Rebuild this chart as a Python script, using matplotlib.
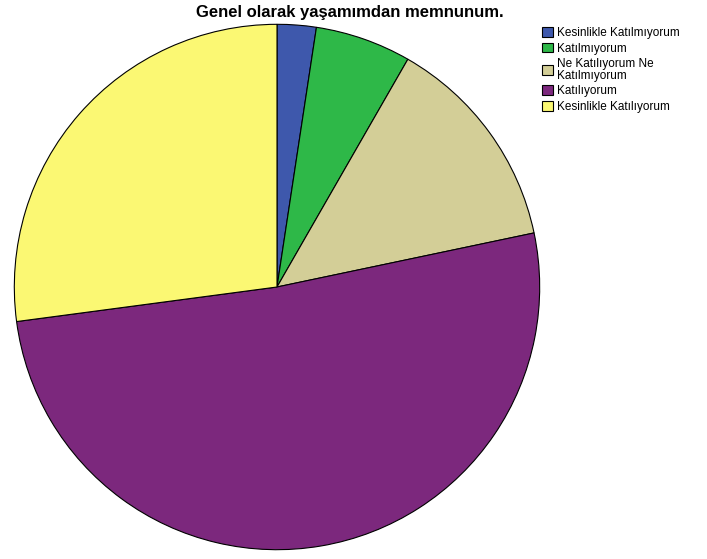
import matplotlib.pyplot as plt

plt.rcParams['font.family'] = ['Liberation Sans', 'DejaVu Sans']

labels = ['Kesinlikle Katılmıyorum', 'Katılmıyorum', 'Ne Katılıyorum Ne\nKatılmıyorum',
          'Katılıyorum', 'Kesinlikle Katılıyorum']
values = [2.4, 5.9, 13.4, 51.2, 27.1]
colors = ['#3E58AC', '#2EB848', '#D3CE97', '#7C287D', '#FBF873']

fig = plt.figure(figsize=(7.07, 5.59), dpi=100)
ax = fig.add_axes([13 / 707, 8 / 559, 528 / 707, 528 / 559])
wedges, _ = ax.pie(values, colors=colors, startangle=90, counterclock=False,
                   radius=1, wedgeprops=dict(edgecolor='black', linewidth=0.8))
ax.set_xlim(-1.005, 1.005)
ax.set_ylim(-1.005, 1.005)
ax.set_aspect('equal')
ax.axis('off')

fig.text(350 / 707, 1 - 12 / 559, 'Genel olarak yaşamımdan memnunum.',
         ha='center', va='center', fontsize=12, fontweight='bold')

leg = fig.legend(wedges, labels, loc='upper left', bbox_to_anchor=(542 / 707, 1 - 27 / 559),
                 frameon=False, fontsize=8.5, handlelength=0.9, handleheight=0.9,
                 handletextpad=0.35, labelspacing=0.3, borderaxespad=0, borderpad=0)
for h in leg.legend_handles:
    h.set_edgecolor('black')
    h.set_linewidth(0.8)
for t in leg.get_texts():
    t.set_linespacing(0.95)

fig.savefig('out.png', dpi=100)
